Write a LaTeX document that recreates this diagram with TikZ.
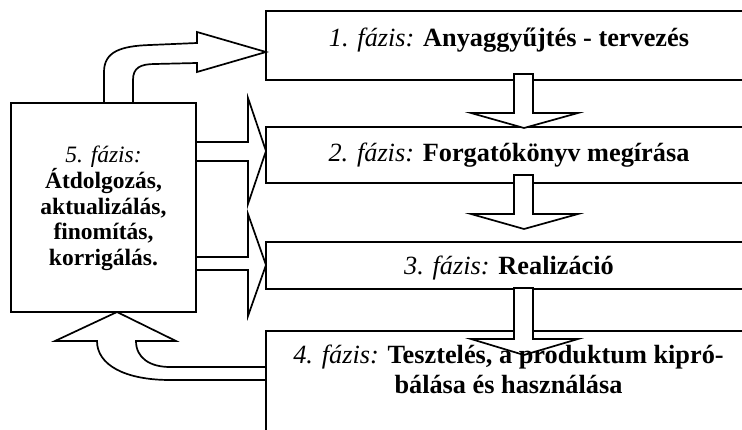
\documentclass[tikz,border=0pt]{standalone}
\usepackage{fontspec}
\setmainfont{Liberation Serif}
\begin{document}
\begin{tikzpicture}[x=1pt, y=-1pt,
  phasebox/.style={draw, fill=white, line width=1.7pt, outer sep=0pt, inner sep=0pt, anchor=north west},
  blockarrow/.style={draw, fill=white, line width=1.7pt, line join=miter, miter limit=20},
  phasetext/.style={anchor=base, inner sep=0pt, font=\fontsize{26.3}{30}\selectfont},
  sidetext/.style={anchor=base, inner sep=0pt, font=\fontsize{23.5}{26}\selectfont\bfseries}
]
\useasboundingbox (0,0) rectangle (742,430);
\clip (0,0) rectangle (742,430);

% phase boxes (right-hand ones run past the page edge)
\node[phasebox, minimum width=494pt, minimum height=69pt] (b1) at (266,11) {};
\node[phasebox, minimum width=494pt, minimum height=56pt] (b2) at (266,127) {};
\node[phasebox, minimum width=494pt, minimum height=47pt] (b3) at (266,242) {};
\node[phasebox, minimum width=494pt, minimum height=120pt] (b4) at (266,331) {};
\node[phasebox, minimum width=185pt, minimum height=209pt] (b5) at (11,103) {};

% curved arrow: phase 5 -> phase 1
\draw[blockarrow] (104,103) -- (104,72) .. controls (104,52) and (120,46) .. (150,45) -- (197,43)
  -- (197,32) -- (266,52) -- (197,72) -- (197,63) -- (155,64)
  .. controls (140,64) and (133,68) .. (133,80) -- (133,103) -- cycle;

% straight arrows: phase 5 -> phases 2 and 3
\draw[blockarrow] (196,142) -- (248,142) -- (248,98) -- (266,151) -- (248,204) -- (248,161) -- (196,161) -- cycle;
\draw[blockarrow] (196,257) -- (248,257) -- (248,214) -- (266,265) -- (248,316) -- (248,270) -- (196,270) -- cycle;

% downward arrows between consecutive phases
\draw[blockarrow] (514,74) -- (514,113) -- (471,113) -- (524,128) -- (578,113) -- (533,113) -- (533,74) -- cycle;
\draw[blockarrow] (514,175) -- (514,214) -- (471,214) -- (524,229) -- (578,214) -- (533,214) -- (533,175) -- cycle;
\draw[blockarrow] (514,288) -- (514,339) -- (471,339) -- (524,355) -- (578,339) -- (533,339) -- (533,288) -- cycle;

% curved arrow: phase 4 back to phase 5
\draw[blockarrow] (266,367) -- (170,367) .. controls (150,367) and (136,358) .. (136,341)
  -- (176,341) -- (117,312) -- (55,341) -- (97,341)
  .. controls (97,365) and (125,380) .. (170,380) -- (266,380) -- cycle;

% labels
\node[phasetext] (t1) at (509,47) {\textit{1. fázis:} \textbf{Anyaggyűjtés - tervezés}};
\node[phasetext] (t2) at (509,162) {\textit{2. fázis:} \textbf{Forgatókönyv megírása}};
\node[phasetext] (t3) at (509,275) {\textit{3. fázis:} \textbf{Realizáció}};
\node[phasetext] (t4a) at (508.5,363) {\textit{4. fázis:} \textbf{Tesztelés, a produktum kipró-}};
\node[phasetext] (t4b) at (508.5,394) {\textbf{bálása és használása}};

\node[sidetext, font=\fontsize{23.5}{26}\selectfont\itshape] (t5a) at (103.5,163) {5. fázis:};
\node[sidetext] (t5b) at (103.5,189) {Átdolgozás,};
\node[sidetext] (t5c) at (103.5,215) {aktualizálás,};
\node[sidetext] (t5d) at (103.5,240) {finomítás,};
\node[sidetext] (t5e) at (103.5,266) {korrigálás.};
\end{tikzpicture}
\end{document}
